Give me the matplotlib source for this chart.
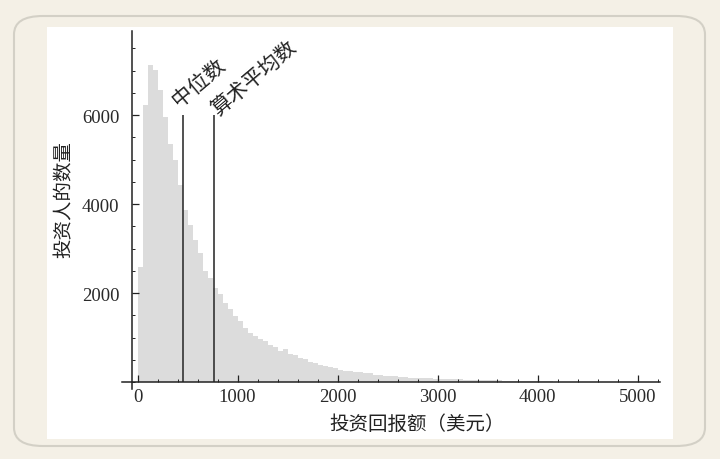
import matplotlib
matplotlib.use("Agg")
import matplotlib.pyplot as plt
import numpy as np
from matplotlib.patches import FancyBboxPatch, Rectangle
from matplotlib.ticker import MultipleLocator, FixedLocator

# histogram of investor returns, bins of 50 dollars
bin_width = 50
counts = [2580, 6230, 7130, 7020, 6570, 5960, 5360, 4980, 4430, 3870,
          3520, 3200, 2900, 2500, 2340, 2120, 1970, 1780, 1630, 1480,
          1370, 1220, 1110, 1035, 960, 924, 840, 790, 700, 740,
          620, 600, 540, 510, 450, 430, 390, 370, 330, 320,
          260, 250, 250, 235, 225, 205, 195, 160, 155, 135,
          130, 125, 115, 105, 100, 100, 85, 80, 80, 70,
          75, 70, 65, 65, 60, 55, 50, 50, 45, 40,
          40, 35, 35, 30, 30, 25, 25, 20, 20, 18,
          15, 14, 12, 11, 10, 9, 8, 7, 6, 5]
edges = [i * bin_width for i in range(len(counts))]

median_value = 450
mean_value = 767
line_top = 6000

x_ticks = [0, 1000, 2000, 3000, 4000, 5000]
y_ticks = [2000, 4000, 6000]

x_label = "投资回报额（美元）"
y_label = "投资人的数量"
median_text = "中位数"
mean_text = "算术平均数"

plt.rcParams['font.family'] = ['Liberation Serif', 'Noto Sans CJK SC', 'DejaVu Sans']

fig = plt.figure(figsize=(7.2, 4.6), dpi=100, facecolor='#f4f0e6')

# rounded frame and white panel
W, H = 720.0, 460.0
frame = FancyBboxPatch((14 / W, 1 - 447 / H), (705 - 14) / W, (447 - 17) / H,
                       boxstyle="round,pad=0,rounding_size=0.04",
                       transform=fig.transFigure, facecolor='#f4f0e6',
                       edgecolor='#d3d0c6', linewidth=1.5, zorder=-2)
fig.patches.append(frame)
panel = Rectangle((47 / W, 1 - 440 / H), (673 - 47) / W, (440 - 27.5) / H,
                  transform=fig.transFigure, facecolor='white',
                  edgecolor='none', zorder=-1)
fig.patches.append(panel)

ax = fig.add_axes([122 / W, 1 - 390 / H, (660 - 122) / W, (390 - 32) / H])
ax.set_zorder(2)
ax.patch.set_alpha(0)

ax.bar(edges, counts, width=bin_width, align='edge', color='#dcdcdc',
       linewidth=0, zorder=1)
ax.vlines([median_value, mean_value], 0, line_top, color='#333333',
          linewidth=1.2, zorder=2)

ax.set_xlim(-155, 5225)
ax.set_ylim(-157, 7890)

for s in ['top', 'right']:
    ax.spines[s].set_visible(False)
ax.spines['left'].set_position(('data', -55))
ax.spines['bottom'].set_position(('data', 0))
for s in ['left', 'bottom']:
    ax.spines[s].set_color('#222222')
    ax.spines[s].set_linewidth(1.1)
    ax.spines[s].set_zorder(3)

ax.xaxis.set_major_locator(FixedLocator(x_ticks))
ax.xaxis.set_minor_locator(MultipleLocator(200))
ax.yaxis.set_major_locator(FixedLocator(y_ticks))
ax.yaxis.set_minor_locator(MultipleLocator(500))
ax.set_xticklabels([str(v) for v in x_ticks])
ax.set_yticklabels([str(v) for v in y_ticks])
ax.tick_params(which='both', direction='in', color='#222222', labelsize=13.5,
               labelcolor='#2a2a2a')
ax.tick_params(which='major', length=5, width=0.9)
ax.tick_params(axis='y', which='major', pad=9)
ax.tick_params(axis='x', which='major', pad=4)
ax.tick_params(which='minor', length=2.5, width=0.7)

ax.text(415, 6200, median_text, rotation=40, rotation_mode='anchor',
        ha='left', va='baseline', fontsize=15, color='#222222')
ax.text(800, 6000, mean_text, rotation=40, rotation_mode='anchor',
        ha='left', va='baseline', fontsize=15, color='#222222')

fig.text(417 / W, 1 - 425 / H, x_label, ha='center', va='center',
         fontsize=14, color='#222222')
fig.text(65 / W, 1 - 200 / H, y_label, ha='center', va='center',
         rotation=90, fontsize=14, color='#222222')

fig.savefig('out.png', dpi=100, facecolor=fig.get_facecolor())
plt.close(fig)
